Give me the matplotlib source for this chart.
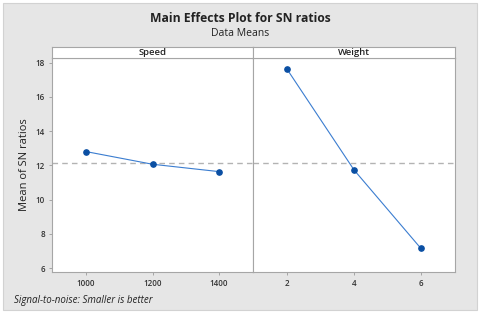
import matplotlib
matplotlib.use("Agg")
import matplotlib.pyplot as plt
from matplotlib.patches import Rectangle
import numpy as np

plt.rcParams['font.family'] = ['Open Sans', 'DejaVu Sans']

# data
speed_levels = [1000, 1200, 1400]
speed_sn = [12.81, 12.07, 11.64]
weight_levels = [2, 4, 6]
weight_sn = [17.61, 11.74, 7.16]
yticks = [6, 8, 10, 12, 14, 16, 18]

grand_mean = np.mean(speed_sn + weight_sn)

W, H = 480, 315
fig = plt.figure(figsize=(4.8, 3.15), dpi=100, facecolor='white')

# gray frame
fig.patches.append(Rectangle((3 / W, 5 / H), 474 / W, 307 / H, transform=fig.transFigure,
                             fc='#e6e6e6', ec='#d2d2d2', lw=0.8, zorder=-5))

C_EDGE = '#a6a6a6'
C_LINE = '#3b7dd0'
C_MARK = '#0a4fa3'

def px(x0, y0, x1, y1):
    # pixel box -> figure fraction rect
    return [x0 / W, 1 - y1 / H, (x1 - x0) / W, (y1 - y0) / H]

panels = [
    ('Speed', speed_levels, speed_sn, (52, 253), [1000, 1200, 1400], (898, 1502)),
    ('Weight', weight_levels, weight_sn, (253, 455), [2, 4, 6], (0.98, 7.02)),
]

for i, (name, lv, sn, (xa, xb), ticks, xl) in enumerate(panels):
    ax = fig.add_axes(px(xa, 58, xb, 271.7))
    ax.set_facecolor('white')
    ax.axhline(grand_mean, color='#b3b3b3', lw=1.0, ls=(0, (4, 3)), zorder=1)
    ax.plot(lv, sn, color=C_LINE, lw=0.8, zorder=2)
    ax.plot(lv, sn, 'o', color=C_MARK, ms=3.8, zorder=3)
    ax.set_xlim(*xl)
    ax.set_ylim(5.8, 18.27)
    ax.set_xticks(ticks)
    ax.set_xticklabels([str(t) for t in ticks], fontsize=5.8, fontweight='semibold',
                       color='#333333')
    ax.set_yticks(yticks)
    ax.tick_params(axis='both', length=2.5, width=0.6, color='#9a9a9a', pad=2.5)
    for s in ax.spines.values():
        s.set_color(C_EDGE)
        s.set_linewidth(0.8)
    if i == 0:
        ax.set_yticklabels([str(t) for t in yticks], fontsize=5.8, fontweight='semibold',
                           color='#333333')
        ax.set_ylabel('Mean of SN ratios', fontsize=8, color='#222222', labelpad=4)
    else:
        ax.tick_params(axis='y', left=False, labelleft=False)

    sax = fig.add_axes(px(xa, 46.5, xb, 58))
    sax.set_facecolor('white')
    sax.set_xticks([])
    sax.set_yticks([])
    for s in sax.spines.values():
        s.set_color(C_EDGE)
        s.set_linewidth(0.8)
    sax.text(0.5, 0.45, name, ha='center', va='center', fontsize=6.8,
             fontweight='semibold', color='#222222', transform=sax.transAxes)

fig.text(240 / W, 1 - 19 / H, 'Main Effects Plot for SN ratios', ha='center', va='center',
         fontsize=8.7, fontweight='bold', color='#222222')
fig.text(240 / W, 1 - 33 / H, 'Data Means', ha='center', va='center',
         fontsize=7.5, color='#222222')
fig.text(14 / W, 1 - 300 / H, 'Signal-to-noise: Smaller is better', ha='left', va='center',
         fontsize=7, fontstyle='italic', color='#222222')

fig.savefig('out.png', dpi=100, facecolor='white')
